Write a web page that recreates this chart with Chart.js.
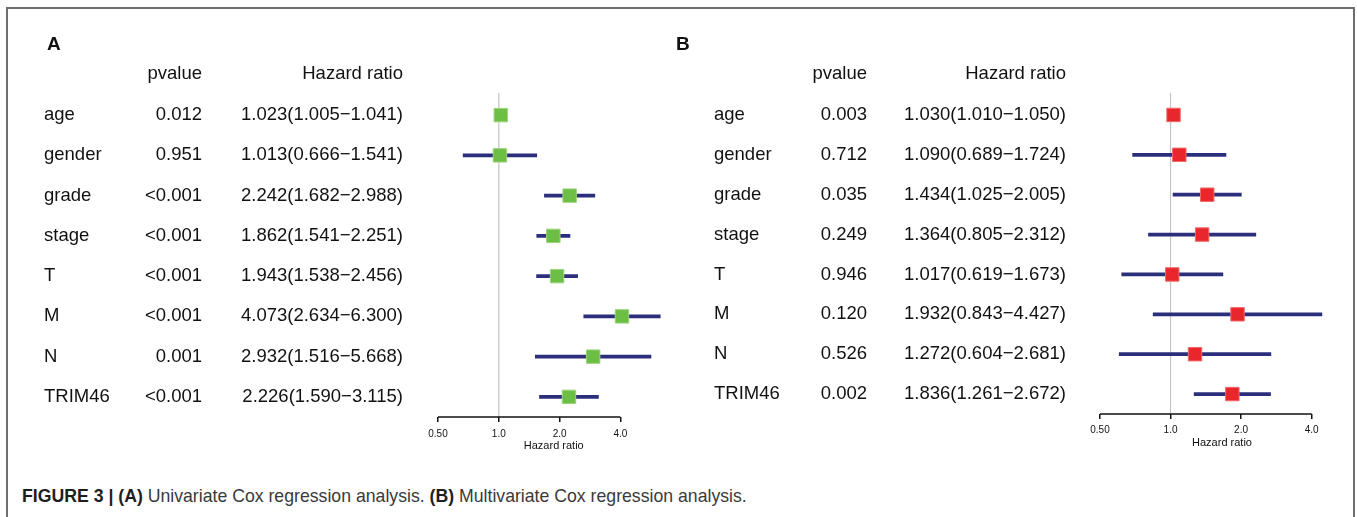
<!DOCTYPE html>
<html>
<head>
<meta charset="utf-8">
<script src="https://cdn.jsdelivr.net/npm/chart.js@4"></script>
<style>
  html, body { margin: 0; padding: 0; background: #fff; width: 1357px; height: 517px; overflow: hidden; }
  #frame { position: absolute; left: 6px; top: 7px; width: 1349px; height: 600px; box-sizing: border-box; border: 2px solid #6e6e6e; }
  canvas { position: absolute; top: 0; }
  #cA { left: 0px; }
  #cB { left: 660px; }
  #caption { position: absolute; left: 22px; top: 485px; font-family: "Liberation Sans", Arial, sans-serif; font-size: 19px; color: #3a3a3a; white-space: nowrap; transform: scaleX(0.93); transform-origin: 0 50%; }
  #caption b { color: #1e1e1e; }
</style>
</head>
<body>
<div id="frame"></div>
<canvas id="cA" width="680" height="470"></canvas>
<canvas id="cB" width="697" height="470"></canvas>
<div id="caption"><b>FIGURE 3 | (A)</b> Univariate Cox regression analysis. <b>(B)</b> Multivariate Cox regression analysis.</div>
<script>
// ---------- data ----------
const categories = ['age', 'gender', 'grade', 'stage', 'T', 'M', 'N', 'TRIM46'];

const pvalueA = ['0.012', '0.951', '<0.001', '<0.001', '<0.001', '<0.001', '0.001', '<0.001'];
const hrA     = [1.023, 1.013, 2.242, 1.862, 1.943, 4.073, 2.932, 2.226];
const lowerA  = [1.005, 0.666, 1.682, 1.541, 1.538, 2.634, 1.516, 1.590];
const upperA  = [1.041, 1.541, 2.988, 2.251, 2.456, 6.300, 5.668, 3.115];

const pvalueB = ['0.003', '0.712', '0.035', '0.249', '0.946', '0.120', '0.526', '0.002'];
const hrB     = [1.030, 1.090, 1.434, 1.364, 1.017, 1.932, 1.272, 1.836];
const lowerB  = [1.010, 0.689, 1.025, 0.805, 0.619, 0.843, 0.604, 1.261];
const upperB  = [1.050, 1.724, 2.005, 2.312, 1.673, 4.427, 2.681, 2.672];

const tickValues = [0.5, 1, 2, 4];
const tickLabels = ['0.50', '1.0', '2.0', '4.0'];
const referenceHR = 1;
const headerP = 'pvalue';
const headerHR = 'Hazard ratio';
const axisTitle = 'Hazard ratio';

// ---------- plugin: table text, reference line, partial axis line ----------
const forestPlugin = {
  id: 'forest',
  beforeDatasetsDraw(chart) {
    const {ctx, chartArea} = chart;
    const x = chart.scales.x;
    const px = x.getPixelForValue(referenceHR);
    ctx.save();
    ctx.strokeStyle = '#c4c4c4';
    ctx.lineWidth = 1.2;
    ctx.beginPath();
    ctx.moveTo(px, chartArea.top - 2);
    ctx.lineTo(px, chartArea.bottom);
    ctx.stroke();
    // axis line from first to last tick
    ctx.strokeStyle = '#111';
    ctx.lineWidth = 1.5;
    ctx.beginPath();
    ctx.moveTo(x.getPixelForValue(tickValues[0]), chartArea.bottom);
    ctx.lineTo(x.getPixelForValue(tickValues[tickValues.length - 1]), chartArea.bottom);
    ctx.stroke();
    ctx.restore();
  },
  afterDraw(chart) {
    const o = chart.options.plugins.forest;
    const {ctx} = chart;
    const y = chart.scales.y;
    ctx.save();
    ctx.fillStyle = '#111';
    ctx.textBaseline = 'middle';
    ctx.font = 'bold 19px "Liberation Sans", Arial, sans-serif';
    ctx.textAlign = 'left';
    ctx.fillText(o.panel, o.panelX, 45);
    ctx.font = '18.5px "Liberation Sans", Arial, sans-serif';
    ctx.textAlign = 'right';
    ctx.fillText(headerP, o.pX, 74);
    ctx.fillText(headerHR, o.hrX, 74);
    categories.forEach((c, i) => {
      const yy = y.getPixelForTick(i);
      ctx.textAlign = 'left';
      ctx.fillText(c, o.nameX, yy);
      ctx.textAlign = 'right';
      ctx.fillText(o.pv[i], o.pX, yy);
      const t = o.hr[i].toFixed(3) + '(' + o.lo[i].toFixed(3) + '\u2212' + o.hi[i].toFixed(3) + ')';
      ctx.fillText(t, o.hrX, yy);
    });
    ctx.restore();
  }
};

function makeChart(id, hr, lo, hi, pv, color, border, cfg) {
  return new Chart(document.getElementById(id), {
    type: 'bar',
    data: {
      labels: categories,
      datasets: [
        {
          type: 'line',
          indexAxis: 'y',
          data: hr,
          showLine: false,
          pointStyle: 'rect',
          pointRadius: 9.5,
          pointHoverRadius: 9.5,
          pointBackgroundColor: color,
          pointBorderColor: border,
          pointBorderWidth: 1,
          order: 0
        },
        {
          type: 'bar',
          data: lo.map((l, i) => [l, hi[i]]),
          backgroundColor: '#2b2e7a',
          borderWidth: 0,
          barThickness: 3,
          order: 1
        }
      ]
    },
    options: {
      indexAxis: 'y',
      responsive: false,
      animation: false,
      events: [],
      layout: { padding: cfg.padding },
      plugins: {
        legend: { display: false },
        tooltip: { enabled: false },
        forest: { panel: cfg.panel, panelX: cfg.panelX, nameX: cfg.nameX, pX: cfg.pX, hrX: cfg.hrX, pv: pv, hr: hr, lo: lo, hi: hi }
      },
      scales: {
        x: {
          type: 'logarithmic',
          min: cfg.min,
          max: cfg.max,
          afterBuildTicks: s => { s.ticks = tickValues.map(v => ({ value: v })); },
          afterFit: s => { s.height = 40; },
          ticks: {
            autoSkip: false,
            maxRotation: 0,
            padding: cfg.tickPad,
            color: '#111',
            font: { family: '"Liberation Sans", Arial, sans-serif', size: 10 },
            callback: (v, i) => tickLabels[i]
          },
          grid: { drawOnChartArea: false, drawTicks: true, tickLength: 5, color: '#111', lineWidth: 1.5 },
          border: { display: false },
          title: {
            display: true,
            text: axisTitle,
            color: '#111',
            font: { family: '"Liberation Sans", Arial, sans-serif', size: 11 },
            padding: { top: 0, bottom: 4 }
          }
        },
        y: {
          type: 'category',
          offset: true,
          display: false
        }
      }
    },
    plugins: [forestPlugin]
  });
}

makeChart('cA', hrA, lowerA, upperA, pvalueA, '#6cbe45', '#9bd47a', {
  panel: 'A', panelX: 47, nameX: 44, pX: 202, hrX: 403,
  min: 0.5, max: 7, tickPad: 6,
  padding: { left: 438, right: 8, top: 95, bottom: 13 }
});

makeChart('cB', hrB, lowerB, upperB, pvalueB, '#e8262b', '#f06a6a', {
  panel: 'B', panelX: 16, nameX: 54, pX: 207, hrX: 406,
  min: 0.5, max: 5.5, tickPad: 5,
  padding: { left: 440, right: 13, top: 95, bottom: 16 }
});
</script>
</body>
</html>
